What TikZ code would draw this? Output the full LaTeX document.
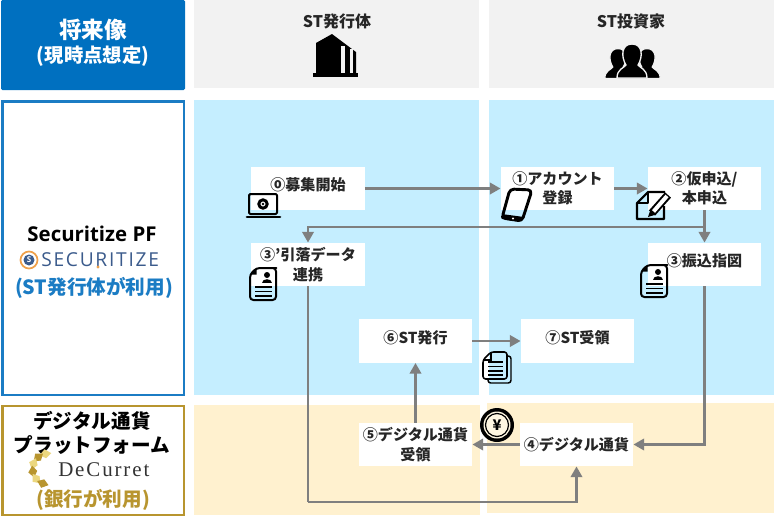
\documentclass[tikz,border=0pt]{standalone}
\usepackage{fontspec}
\setmainfont{Noto Sans CJK JP}
\newfontfamily\latinfont{Open Sans}
\newfontfamily\logofont[LetterSpace=9]{Open Sans}
\newfontfamily\curretfont[LetterSpace=9]{Liberation Serif}
\usetikzlibrary{arrows.meta}
\definecolor{headblue}{HTML}{0070C0}
\definecolor{edgeblue}{HTML}{1B7CC4}
\definecolor{headgrey}{HTML}{F2F2F2}
\definecolor{bandblue}{HTML}{C5EEFF}
\definecolor{bandtan}{HTML}{FFF1CF}
\definecolor{edgegold}{HTML}{B8952F}
\definecolor{paleflake}{HTML}{EBD77F}
\definecolor{flowgrey}{HTML}{7F7F7F}
\definecolor{logonavy}{HTML}{3B5B8C}
\definecolor{logoorange}{HTML}{EFA04A}
\tikzset{
  iconline/.style={black, line width=1.5pt, line join=round},
  pics/docperson/.style={code={
    \draw[iconline, rounded corners=2.5pt] (-6.5,-16) -- (10,-16) -- (13,-16) -- (13,16) -- (-13,16) -- (-13,-9.5) -- cycle;
    \fill (-13,-9.5) -- (-6.5,-16) -- (-6.5,-9.5) -- cycle;
    \fill (4,-9) circle[radius=3];
    \fill (-1,-1.5) .. controls (-1,-6) and (9,-6) .. (9,-1.5) -- cycle;
    \foreach \y in {3,7.5,12} \draw[black, line width=1.1pt] (-8,\y) -- (9,\y);
  }},
  pics/docstack/.style={code={
    \draw[iconline, line width=1.1pt, rounded corners=2pt] (11,-11) -- (14,-11) -- (14,16) -- (-9,16) -- (-9,12);
    \draw[iconline, line width=1.2pt, rounded corners=2pt] (-6,-15) -- (10,-15) -- (10,12) -- (-14,12) -- (-14,-7) -- cycle;
    \draw[black, line width=1pt] (-14,-7) -- (-6,-7) -- (-6,-15);
    \foreach \y in {-5,-0.5,4,8} \draw[black, line width=1pt] (-9,\y) -- (6,\y);
  }},
  pics/penpaper/.style={code={
    \draw[iconline, line width=1.6pt] (12,-14) -- (-5,-14) -- (-16,-3) -- (-16,13) -- (11,13) -- (11,0);
    \draw[iconline, line width=1.6pt] (-16,-3) -- (-5,-3) -- (-5,-14);
    \draw[black, line width=6pt] (-1,7) -- (15,-11);
    \draw[white, line width=3pt] (0.5,5.5) -- (14,-10);
    \fill (-5,11) -- (-2.5,3.5) -- (3,8.5) -- cycle;
  }},
  pics/phoneicon/.style={code={
    \draw[iconline, line width=2.2pt, rounded corners=3pt] (-7,-16) -- (15,-15) -- (5,16) -- (-15,13) -- cycle;
    \fill[rounded corners=2pt] (-15.5,9) -- (7,12) -- (5,17) -- (-16.5,14) -- cycle;
    \fill[white] (-4,13.5) circle[radius=1.1];
  }},
  pics/laptopicon/.style={code={
    \draw[iconline, line width=1.5pt, rounded corners=1pt] (-15,-11) rectangle (13,9);
    \draw[black, line width=2pt, line cap=round] (-17,12) -- (16,12);
    \draw[black, line width=2.2pt] (-1,-1) circle[radius=4.2];
    \fill (-1,-1) circle[radius=1.4];
  }},
  pics/buildingicon/.style={code={
    \fill (-19,-12) -- (-3,-21) -- (21,-3) -- (21,18) -- (-19,18) -- cycle;
    \fill[headgrey] (6,-9) rectangle (10,18);
    \fill[headgrey] (15,-6) rectangle (18,18);
    \fill (-22,18) rectangle (23,22);
  }},
  pics/personicon/.style={code={
    \path[draw=headgrey, line width=1pt, fill=black] (-15,17) .. controls (-15,8) and (-8,7) .. (-6,4)
      .. controls (-11,-4) and (-11,-17) .. (0,-17) .. controls (11,-17) and (11,-4) .. (6,4)
      .. controls (8,7) and (15,8) .. (15,17) -- cycle;
  }},
  flow/.style={flowgrey, line width=1.9pt, -{Triangle[length=8pt,width=8.5pt]}},
  flowplain/.style={flowgrey, line width=1.9pt}
}

\begin{document}
\begin{tikzpicture}[
  x=0.75pt,y=-0.75pt,
  headtxt/.style={font=\bfseries\fontsize{12}{15}\selectfont, text=black!85, inner sep=0pt},
  sidetxt/.style={font=\bfseries\fontsize{14.7}{18}\selectfont, inner sep=0pt},
  stepbox/.style={fill=white, minimum width=85pt, minimum height=32.5pt, inner sep=0pt, align=center,
    font=\bfseries\fontsize{11.3}{14.6}\selectfont, text=black!85},
  oneline/.style={text depth=6pt},
]

\useasboundingbox (0,0) rectangle (775,529);
\fill[white] (0,0) rectangle (775,529);

% ----------------------------- Header row -----------------------------
\fill[headblue, rounded corners=1pt] (1,0) rectangle (185,90);
\fill[headgrey] (194,0) rectangle (479,88);
\fill[headgrey] (489,0) rectangle (774,88);
\node[sidetxt, text=white, font=\bfseries\fontsize{17}{20}\selectfont] (future) at (93,30) {将来像};
\node[sidetxt, text=white, font=\bfseries\fontsize{14.5}{16}\selectfont] (assume) at (93,56) {(現時点想定)};
\node[headtxt] (issuer) at (337,21) {ST発行体};
\node[headtxt] (investor) at (631,21) {ST投資家};
\pic at (335,55) {buildingicon};
% Three heads, the middle one in front.
\pic[scale=0.88] at (618,63.5) {personicon};
\pic[scale=0.88] at (647,63.5) {personicon};
\pic at (632,61) {personicon};

% ----------------------------- Bands -----------------------------
\fill[bandblue] (194,100) rectangle (479,395);
\fill[bandblue] (489,100) rectangle (774,395);
\fill[bandtan] (194,405) rectangle (480,515);
\fill[bandtan] (487,403) rectangle (774,513);

% ----------------------------- Left column -----------------------------
\draw[edgeblue, line width=1.6pt] (2.5,101.5) rectangle (184,395);
\node[sidetxt, font=\latinfont\bfseries\fontsize{15.3}{18}\selectfont] (platform) at (92,234) {Securitize PF};
\draw[logoorange, line width=1.3pt] (29,260) circle[radius=8.5];
\fill[logonavy] (29,260) circle[radius=5.5];
\node[text=white, inner sep=0pt, font=\latinfont\bfseries\fontsize{6}{6}\selectfont] (logos) at (29,260) {S};
\node[inner sep=0pt, anchor=west, text=logonavy, font=\logofont\fontsize{14.4}{18}\selectfont] (securitize) at (41,260) {SECURITIZE};
\fill[logoorange] (98,267) circle[radius=1.6];
\node[sidetxt, text=edgeblue] (users) at (94,288) {(ST発行体が利用)};

\draw[edgegold, line width=1.6pt] (2.5,406) rectangle (184,515);
\node[sidetxt] (digital) at (92,421) {デジタル通貨};
\node[sidetxt] (digitalpf) at (92,445) {プラットフォーム};
% Gold crescent of the logo, laid flake by flake.
\foreach \a/\c in {100/paleflake,130/edgegold,160/paleflake,190/edgegold,220/paleflake,250/edgegold}
  \fill[\c, shift={(48,469)}, rotate=\a] (11,0) -- (15,-6) -- (20,0) -- (15,6) -- cycle;
\node[inner sep=0pt, anchor=west, text=black!80, font=\curretfont\fontsize{15.7}{18}\selectfont] (decurret) at (58,470) {DeCurret};
\node[sidetxt, text=edgegold] (banks) at (93,500) {(銀行が利用)};

% ----------------------------- Steps -----------------------------
\node[stepbox, oneline] (s0) at (308,188.5) {⓪募集開始};
\node[stepbox] (s1) at (557.5,188.5) {①アカウント\\登録};
\node[stepbox] (s2) at (704.5,188.5) {②仮申込/\\本申込};
\node[stepbox] (s3p) at (308,264.5) {③'引落データ\\連携};
\node[stepbox, oneline] (s3) at (704.5,264.5) {③振込指図};
\node[stepbox, oneline] (s6) at (415.5,341) {⑥ST発行};
\node[stepbox, oneline] (s7) at (577.5,341) {⑦ST受領};
\node[stepbox] (s5) at (415.5,444.5) {⑤デジタル通貨\\受領};
\node[stepbox] (s4) at (576.5,444.5) {④デジタル通貨};

% Free ends of the two long runs.
\coordinate (branch) at (704.5,227);
\coordinate (under) at (308,502);

% ----------------------------- Flows -----------------------------
\draw[flow] (s0) -- (s1);
\draw[flow] (s1) -- (s2);
\draw[flow] (s2) -- (s3);
\draw[flow] (branch) -| (s3p);
\draw[flowplain, -] (s3p) -- (under);
\draw[flow] (under) -| (s4);
\draw[flow] (s3) |- (s4);
\draw[flow] (s4) -- (s5);
\draw[flow] (s5) -- (s6);
\draw[flow] (s6) -- (s7);

% ----------------------------- Icons -----------------------------
\pic at (264,205) {laptopicon};
\pic at (517,205) {phoneicon};
\pic at (653,206) {penpaper};
\pic at (263,284) {docperson};
\pic at (654,281) {docperson};
\pic at (497,367) {docstack};
\fill (497,425) circle[radius=17];
\fill[bandtan!60!white] (497,425) circle[radius=13.5];
\draw[black, line width=0.9pt] (497,425) circle[radius=11.5];
\node[inner sep=0pt, font=\bfseries\fontsize{11}{11}\selectfont] (yen) at (497,425) {¥};

\end{tikzpicture}
\end{document}
